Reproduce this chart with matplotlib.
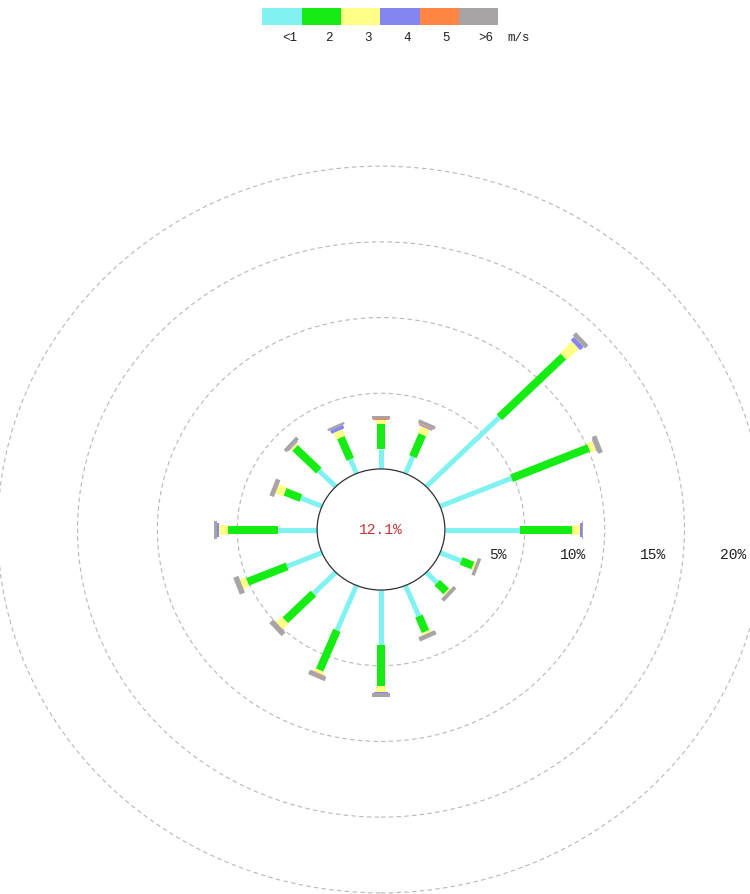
import numpy as np
import matplotlib
matplotlib.use('Agg')
import matplotlib.pyplot as plt
from matplotlib.patches import Circle, Rectangle

# wind rose data: frequency (%) per direction and speed class
directions = ['N', 'NNE', 'NE', 'ENE', 'E', 'ESE', 'SE', 'SSE',
              'S', 'SSW', 'SW', 'WSW', 'W', 'WNW', 'NW', 'NNW']
calm_pct = 12.1
speed_labels = ['<1', '2', '3', '4', '5', '>6']
speed_colors = ['#80f2f2', '#14ec14', '#ffff85', '#8585f2', '#ff8645', '#a8a4a6']

freq_lt1 = [1.33, 1.21, 6.48, 4.85, 4.68, 1.43, 0.97, 2.19, 3.65, 3.21, 1.98, 2.36, 2.44, 1.43, 1.50, 1.02]
freq_2 = [1.65, 1.57, 5.68, 5.23, 3.27, 0.80, 0.81, 1.11, 2.68, 2.84, 2.50, 2.69, 3.13, 1.08, 2.12, 1.56]
freq_3 = [0.28, 0.48, 1.06, 0.38, 0.48, 0.12, 0.10, 0.15, 0.40, 0.20, 0.52, 0.39, 0.59, 0.53, 0.15, 0.46]
freq_4 = [0.00, 0.08, 0.30, 0.05, 0.15, 0.00, 0.00, 0.00, 0.05, 0.00, 0.00, 0.00, 0.08, 0.00, 0.05, 0.25]
freq_5 = [0.06, 0.06, 0.00, 0.00, 0.00, 0.00, 0.00, 0.00, 0.04, 0.04, 0.00, 0.00, 0.04, 0.00, 0.00, 0.00]
freq_gt6 = [0.16, 0.22, 0.30, 0.30, 0.05, 0.22, 0.25, 0.30, 0.25, 0.30, 0.35, 0.35, 0.20, 0.30, 0.25, 0.15]

ring_pcts = [5, 10, 15, 20]

series = [freq_lt1, freq_2, freq_3, freq_4, freq_5, freq_gt6]
widths_px = [5, 8, 10, 14, 16, 18]

W, H = 750, 895
cx, cy = 381, 530.5          # centre in pixels (from top-left)
sy = 15.14                   # px per 1% vertically
sx = sy * 1.055              # image is slightly stretched horizontally
R0 = 4.0                     # calm circle radius in % units

fig = plt.figure(figsize=(W / 100, H / 100), dpi=100)
ax = fig.add_axes([0, 0, 1, 1])
ax.set_xlim(-cx / sx, (W - cx) / sx)
ax.set_ylim(-(H - cy) / sy, cy / sy)
ax.axis('off')

mono = 'Liberation Mono'

# dashed rings
for p in ring_pcts:
    ax.add_patch(Circle((0, 0), R0 + p, fill=False, ec='#b8b8b8', lw=0.8,
                        ls=(0, (4, 3)), zorder=1))
    ax.annotate(f'{p}%', xy=(R0 + p, 0), xytext=(-13, -17.5),
                textcoords='offset points', ha='right', va='center',
                fontsize=10.5, family=mono, color='#202020',
                annotation_clip=False)

# petals
for i, d in enumerate(directions):
    theta = np.deg2rad(90 - 22.5 * i)
    c, s = np.cos(theta), np.sin(theta)
    r = R0
    for k, vals in enumerate(series):
        v = vals[i]
        if v <= 0:
            continue
        ax.plot([r * c, (r + v) * c], [r * s, (r + v) * s],
                color=speed_colors[k], lw=widths_px[k] * 0.72,
                solid_capstyle='butt', zorder=2 + k)
        r += v

# calm circle
ax.add_patch(Circle((0, 0), R0, fill=True, fc='white', ec='#303030', lw=0.9, zorder=10))
ax.text(0, 0, f'{calm_pct}%', ha='center', va='center', fontsize=10.5,
        family=mono, color='#c83232', zorder=11)

# legend colour bar at top
box_w = 39.3
x0 = 262.3
for k, lab in enumerate(speed_labels):
    fig.add_artist(Rectangle(((x0 + k * box_w) / W, 1 - 26 / H), box_w / W, 16.7 / H,
                             transform=fig.transFigure, fc=speed_colors[k], ec='none'))
    fig.text((x0 + k * box_w + 27) / W, 1 - 38 / H, lab, ha='center', va='center',
             fontsize=9, family=mono, color='#202020')
fig.text(519 / W, 1 - 38 / H, 'm/s', ha='center', va='center',
         fontsize=9, family=mono, color='#202020')

fig.savefig('out.png', dpi=100, facecolor='white')
